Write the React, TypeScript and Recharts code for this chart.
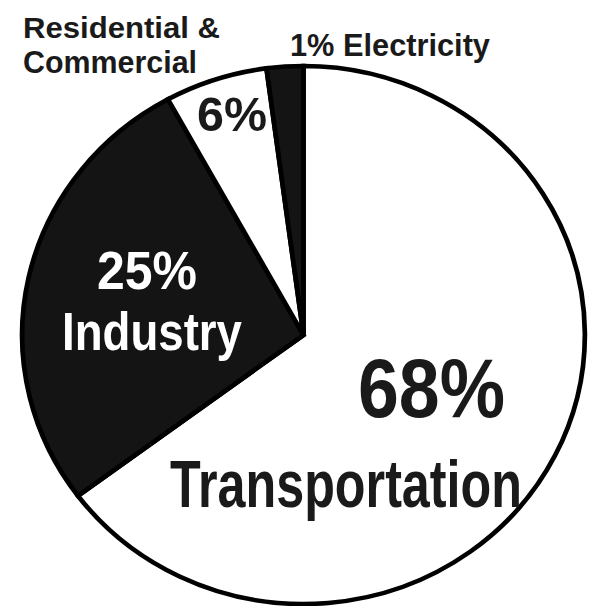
import React from "react";
import { PieChart, Pie, Cell } from "recharts";

// ---- data ----
const categories = ["Transportation", "Industry", "Residential & Commercial", "Electricity"];
// slice sizes as drawn (percent of the full circle)
const shares = [64.8, 27.2, 5.9, 2.1];
// percentage labels printed on the chart
const percentLabels = ["68%", "25%", "6%", "1%"];
const sliceColors = ["#ffffff", "#141414", "#ffffff", "#141414"];

const data = categories.map((name, i) => ({ name, value: shares[i], pct: percentLabels[i] }));

// ---- layout ----
const W = 593;
const H = 606;
const SX = 1.046; // the original pie is a slightly wide ellipse
const CW = W / SX;
const FONT = "'Liberation Sans Narrow', 'Liberation Sans', Arial, sans-serif";
const DARK = "#1a1a1a";

type T = { text: string; x: number; y: number; w: number; fs: number; fill: string };

// label text boxes in page pixels (left, baseline, width, font size)
function labelItems(index: number): T[] {
  const d = data[index];
  switch (index) {
    case 0:
      return [
        { text: d.pct, x: 358, y: 417, w: 147, fs: 84, fill: DARK },
        { text: d.name, x: 170, y: 507, w: 352, fs: 67, fill: DARK },
      ];
    case 1:
      return [
        { text: d.pct, x: 97, y: 289, w: 100, fs: 53, fill: "#ffffff" },
        { text: d.name, x: 62, y: 350, w: 180, fs: 53, fill: "#ffffff" },
      ];
    case 2: {
      const parts = d.name.split(" & ");
      return [
        { text: d.pct, x: 197, y: 131, w: 70, fs: 48, fill: DARK },
        { text: parts[0] + " &", x: 23, y: 38, w: 197, fs: 30, fill: DARK },
        { text: parts[1], x: 23, y: 73, w: 174, fs: 31, fill: DARK },
      ];
    }
    case 3:
      return [{ text: d.pct + " " + d.name, x: 290, y: 56, w: 200, fs: 31, fill: DARK }];
    default:
      return [];
  }
}

const renderLabel = (props: any) => {
  const items = labelItems(props.index);
  return (
    <g key={"lbl-" + props.index}>
      {items.map((it, k) => (
        <text
          key={k}
          x={it.x / SX}
          y={it.y}
          fill={it.fill}
          fontFamily={FONT}
          fontWeight="bold"
          fontSize={it.fs}
          textAnchor="start"
          textLength={it.w / SX}
          lengthAdjust="spacingAndGlyphs"
        >
          {it.text}
        </text>
      ))}
    </g>
  );
};

export default function App() {
  return (
    <div
      style={{
        position: "absolute",
        left: 0,
        top: 0,
        width: W,
        height: H,
        overflow: "hidden",
        background: "#ffffff",
      }}
    >
      <div style={{ width: CW, height: H, transform: `scaleX(${SX})`, transformOrigin: "0 0" }}>
        <PieChart width={CW} height={H} margin={{ top: 0, right: 0, bottom: 0, left: 0 }}>
          <Pie
            data={data}
            dataKey="value"
            nameKey="name"
            cx={303.5 / SX}
            cy={335}
            outerRadius={269}
            innerRadius={0}
            startAngle={90}
            endAngle={-270}
            stroke="#000000"
            strokeWidth={4.5}
            isAnimationActive={false}
            label={renderLabel}
            labelLine={false}
          >
            {data.map((d, i) => (
              <Cell key={d.name} fill={sliceColors[i]} stroke="#000000" strokeWidth={4.5} />
            ))}
          </Pie>
        </PieChart>
      </div>
    </div>
  );
}
